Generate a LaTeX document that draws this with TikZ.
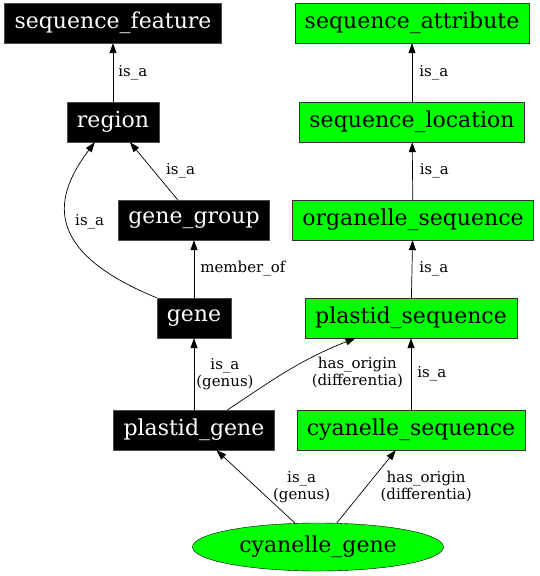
\documentclass[tikz,border=0pt]{standalone}
\usepackage{fontspec}
\setmainfont{DejaVu Serif}
\usetikzlibrary{arrows.meta,shapes.geometric}

\begin{document}
\begin{tikzpicture}[x=1pt,y=-1pt,>={Triangle[length=10pt,width=7pt]},
blk/.style={rectangle,fill=black,draw=black!70,text=white,font=\fontsize{22}{25}\selectfont,minimum height=40pt,inner xsep=10pt},
grn/.style={rectangle,fill=green,draw=black!80,text=black,font=\fontsize{22}{25}\selectfont,minimum height=40pt,inner xsep=10pt},
lbl/.style={font=\fontsize{15}{17}\selectfont,align=center,inner sep=2pt},
edg/.style={draw,->,line width=0.7pt}]
\useasboundingbox (0,0) rectangle (540,576);
\node[blk] (seqfeat) at (113,23) {sequence\_feature};
\node[blk] (region) at (113,122) {region};
\node[blk] (genegrp) at (194,220) {gene\_group};
\node[blk] (gene) at (194,318) {gene};
\node[blk] (plgene) at (194,430) {plastid\_gene};
\node[grn] (seqattr) at (412,23) {sequence\_attribute};
\node[grn] (seqloc) at (412,122) {sequence\_location};
\node[grn] (orgseq) at (413,220) {organelle\_sequence};
\node[grn] (plseq) at (411,318) {plastid\_sequence};
\node[grn] (cyseq) at (411,430) {cyanelle\_sequence};
\node[ellipse,fill=green,draw=black,minimum width=251pt,minimum height=48pt,inner sep=0pt,font=\fontsize{22}{25}\selectfont] (cygene) at (318,547) {cyanelle\_gene};
\path[edg] (region) -- node[lbl,right,xshift=3pt] {is\_a} (seqfeat);
\path[edg] (genegrp.129) -- node[lbl,right,xshift=10pt] {is\_a} (region.310);
\path[edg] (gene.north west) .. controls +(-117,-48) and +(-40,53) .. node[lbl,right,xshift=6pt] {is\_a} (region.228);
\path[edg] (gene) -- node[lbl,right,xshift=4pt] {member\_of} (genegrp);
\path[edg] (plgene) -- node[lbl,right,xshift=0pt] {is\_a\\(genus)} (gene);
\path[edg] (plgene.31) .. controls +(38,-25) and +(-57,22) .. node[lbl,right,xshift=25pt] {has\_origin\\(differentia)} (plseq.200);
\path[edg] (cyseq) -- node[lbl,right,xshift=4pt] {is\_a} (plseq);
\path[edg] (plseq) -- node[lbl,right,xshift=5pt] {is\_a} (orgseq);
\path[edg] (orgseq) -- node[lbl,right,xshift=5pt] {is\_a} (seqloc);
\path[edg] (seqloc) -- node[lbl,right,xshift=5pt] {is\_a} (seqattr);
\path[edg] (cygene.134) -- node[lbl,right,xshift=15pt] {is\_a\\(genus)} (plgene.318);
\path[edg] (cygene.52) -- node[lbl,right,xshift=12pt] {has\_origin\\(differentia)} (cyseq.233);
\end{tikzpicture}
\end{document}
